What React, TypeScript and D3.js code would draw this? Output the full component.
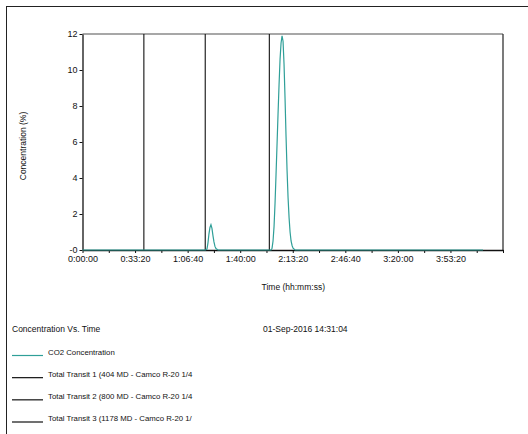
import React, { useEffect, useRef } from "react";
import * as d3 from "d3";

// CO2 concentration samples (seconds from start, %)
const timeSec = [
  0, 4679, 4736, 4774, 4812, 4850, 4888, 4926, 4964, 5002, 5040, 5079, 5155,
  7174, 7212, 7250, 7288, 7326, 7364, 7403, 7441, 7479, 7517, 7555, 7593, 7631,
  7669, 7707, 7745, 7784, 7822, 7860, 7898, 7936, 7974, 8012, 8088, 15240,
];
const co2 = [
  0, 0, 0.05, 0.4, 0.9, 1.25, 1.4, 1.2, 0.8, 0.45, 0.2, 0.08, 0,
  0, 0.1, 0.5, 1.3, 2.6, 4.2, 5.9, 7.6, 9.2, 10.6, 11.5, 11.9, 11.6,
  10.3, 8.4, 6.3, 4.4, 2.9, 1.8, 1.0, 0.5, 0.25, 0.1, 0, 0,
];

// total transit markers (seconds)
const transitTimes = [2335, 4670, 7109];

const legendLabels = [
  "CO2 Concentration",
  "Total Transit 1 (404 MD - Camco R-20 1/4",
  "Total Transit 2 (800 MD - Camco R-20 1/4",
  "Total Transit 3 (1178 MD - Camco R-20 1/",
];
const yTicks = [0, 2, 4, 6, 8, 10, 12];
const xLabelTicks = [0, 2000, 4000, 6000, 8000, 10000, 12000, 14000];

const teal = "#2f9f98";
const font = "'Liberation Sans', Arial, sans-serif";

const fmtTime = (s) => {
  const h = Math.floor(s / 3600);
  const m = Math.floor((s % 3600) / 60);
  const sec = s % 60;
  return `${h}:${String(m).padStart(2, "0")}:${String(sec).padStart(2, "0")}`;
};

const ConcentrationChart = () => {
  const ref = useRef();
  const W = 528;
  const H = 434;
  const plot = { left: 82.5, right: 503, top: 34, bottom: 250 };

  useEffect(() => {
    const svg = d3.select(ref.current);
    svg.selectAll("*").remove();

    const x = d3.scaleLinear().domain([0, 16000]).range([plot.left, plot.right]);
    const y = d3.scaleLinear().domain([0, 12]).range([plot.bottom, plot.top]);

    // outer page frame
    svg
      .append("rect")
      .attr("x", 6.5)
      .attr("y", 6.5)
      .attr("width", W)
      .attr("height", H)
      .attr("fill", "none")
      .attr("stroke", "#222")
      .attr("stroke-width", 1);

    // plot frame: top grey, right dark
    svg
      .append("line")
      .attr("x1", plot.left)
      .attr("x2", plot.right)
      .attr("y1", plot.top)
      .attr("y2", plot.top)
      .attr("stroke", "#8a8a8a")
      .attr("stroke-width", 1.6);
    svg
      .append("line")
      .attr("x1", plot.right)
      .attr("x2", plot.right)
      .attr("y1", plot.top)
      .attr("y2", plot.bottom)
      .attr("stroke", "#333")
      .attr("stroke-width", 1.3);

    // transit markers
    svg
      .append("g")
      .selectAll("line")
      .data(transitTimes)
      .enter()
      .append("line")
      .attr("x1", (d) => x(d))
      .attr("x2", (d) => x(d))
      .attr("y1", plot.top)
      .attr("y2", plot.bottom)
      .attr("stroke", "#111")
      .attr("stroke-width", 1.1);

    // X axis
    const xAxis = svg
      .append("g")
      .attr("transform", `translate(0,${plot.bottom})`)
      .call(
        d3
          .axisBottom(x)
          .tickValues(d3.range(0, 16001, 1000))
          .tickSize(3)
          .tickSizeOuter(0)
          .tickFormat((d) => (xLabelTicks.includes(d) ? fmtTime(d) : ""))
      );
    xAxis.select(".domain").attr("stroke", "#111").attr("stroke-width", 1.3);
    xAxis.selectAll(".tick line").attr("stroke", "#111");
    xAxis
      .selectAll("text")
      .attr("font-family", font)
      .attr("font-size", 9)
      .attr("fill", "#111")
      .attr("dy", "0.85em")
      .attr("y", 4.5);

    // Y axis
    const yAxis = svg
      .append("g")
      .attr("transform", `translate(${plot.left},0)`)
      .call(
        d3
          .axisLeft(y)
          .tickValues(yTicks)
          .tickSize(3)
          .tickSizeOuter(0)
          .tickFormat((d) => (d === 0 ? "-0" : String(d)))
      );
    yAxis.select(".domain").attr("stroke", "#111").attr("stroke-width", 1.3);
    yAxis.selectAll(".tick line").attr("stroke", "#111");
    yAxis
      .selectAll("text")
      .attr("font-family", font)
      .attr("font-size", 9)
      .attr("fill", "#111")
      .attr("x", -5)
      .attr("dy", "0.3em");

    // CO2 curve
    const data = timeSec.map((t, i) => ({ t, v: co2[i] }));
    svg
      .append("path")
      .datum(data)
      .attr("fill", "none")
      .attr("stroke", teal)
      .attr("stroke-width", 1.2)
      .attr(
        "d",
        d3
          .line()
          .x((d) => x(d.t))
          .y((d) => y(d.v))
      );

    // axis labels
    svg
      .append("text")
      .attr("x", (plot.left + plot.right) / 2 + 0.5)
      .attr("y", 290)
      .attr("text-anchor", "middle")
      .attr("font-family", font)
      .attr("font-size", 8.5)
      .attr("fill", "#111")
      .text("Time (hh:mm:ss)");
    svg
      .append("text")
      .attr("transform", `translate(26,${(plot.top + plot.bottom) / 2 + 4})rotate(-90)`)
      .attr("text-anchor", "middle")
      .attr("font-family", font)
      .attr("font-size", 8.5)
      .attr("fill", "#111")
      .text("Concentration (%)");

    // footer title and date
    svg
      .append("text")
      .attr("x", 12)
      .attr("y", 332)
      .attr("font-family", font)
      .attr("font-size", 8.5)
      .attr("fill", "#111")
      .text("Concentration Vs. Time");
    svg
      .append("text")
      .attr("x", 263)
      .attr("y", 332)
      .attr("font-family", font)
      .attr("font-size", 8.5)
      .attr("fill", "#111")
      .text("01-Sep-2016 14:31:04");

    // legend
    const rowY = d3.scaleLinear().domain([0, 3]).range([355.5, 422]);
    const lg = svg
      .append("g")
      .selectAll("g")
      .data(legendLabels)
      .enter()
      .append("g")
      .attr("transform", (d, i) => `translate(0,${rowY(i)})`);
    lg.append("line")
      .attr("x1", 12)
      .attr("x2", 43)
      .attr("y1", 0)
      .attr("y2", 0)
      .attr("stroke", (d, i) => (i === 0 ? teal : "#111"))
      .attr("stroke-width", 1.2);
    lg.append("text")
      .attr("x", 48)
      .attr("y", -1)
      .attr("font-family", font)
      .attr("font-size", 7.8)
      .attr("fill", "#111")
      .text((d) => d);
  }, []);

  return <svg ref={ref} width={W} height={H} style={{ display: "block" }} />;
};

export default function App() {
  return (
    <div style={{ position: "absolute", left: 0, top: 0, background: "#fff" }}>
      <ConcentrationChart />
    </div>
  );
}
